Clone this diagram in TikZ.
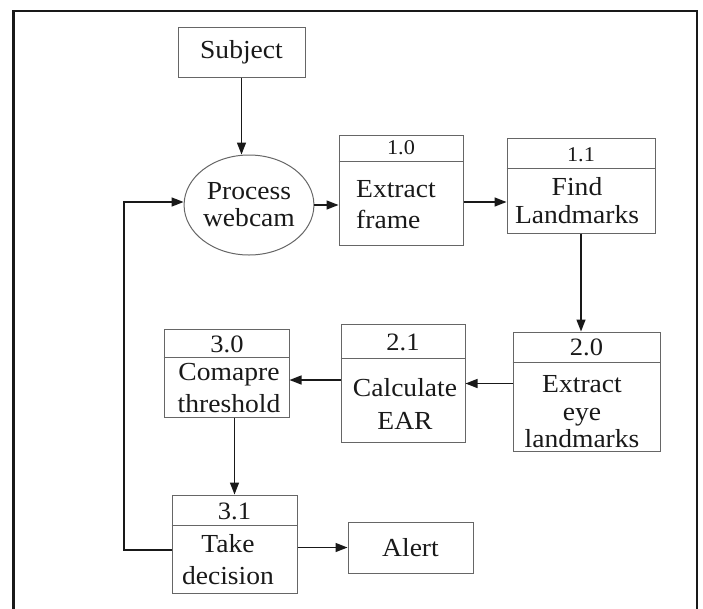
\documentclass[tikz,border=0pt]{standalone}
\usepackage{fontspec}
\setmainfont{Liberation Serif}[FakeStretch=1.06]
\usetikzlibrary{arrows.meta,shapes.geometric}
\begin{document}
\begin{tikzpicture}[x=1pt,y=-1pt,
  boxline/.style={draw=black!60, line width=1pt},
  box/.style={boxline, rectangle, inner sep=0pt},
  txt/.style={font=\fontsize{26}{30}\selectfont, align=center, inner sep=0pt, text=black!90},
  num/.style={font=\fontsize{25}{28}\selectfont, inner sep=0pt, text=black!90},
  smallnum/.style={font=\fontsize{21}{22}\selectfont, inner sep=0pt, text=black!90},
  arr/.style={draw=black!90, line width=1.4pt, -{Triangle[length=12pt,width=9pt]}}]
\useasboundingbox (0,0) rectangle (703,608);
% frame
\draw[line width=2.3pt, black!90] (13.5,620) -- (13.5,11) -- (697,11) -- (697,620);

% Subject
\node[box, txt, minimum width=127pt, minimum height=50pt] (subj) at (241.5,52) {Subject};

% Process webcam
\node[ellipse, boxline, txt, font=\fontsize{26}{27}\selectfont, minimum width=112pt, minimum height=100pt, inner sep=0pt] (circ) at (249,205) {Process\\webcam};

% 1.0
\node[box, minimum width=124pt, minimum height=110pt] (b10) at (401,190) {};
\draw[boxline] ([yshift=-27pt]b10.north west) -- ([yshift=-27pt]b10.north east);
\node[smallnum] (n10) at (401,148) {1.0};
\node[txt, align=left, anchor=west, font=\fontsize{26}{31}\selectfont] (t10) at (356,205) {Extract\\frame};

% 1.1
\node[box, minimum width=148pt, minimum height=95pt] (b11) at (581,185.5) {};
\draw[boxline] ([yshift=-31pt]b11.north west) -- ([yshift=-31pt]b11.north east);
\node[smallnum] (n11) at (581,155) {1.1};
\node[txt, font=\fontsize{26}{28}\selectfont] (t11) at (577,201) {Find\\Landmarks};

% 2.0
\node[box, minimum width=147pt, minimum height=119pt] (b20) at (586.5,391.5) {};
\draw[boxline] ([yshift=-31pt]b20.north west) -- ([yshift=-31pt]b20.north east);
\node[num] (n20) at (586.5,347) {2.0};
\node[txt, font=\fontsize{26}{27.5}\selectfont] (t20) at (582,412) {Extract\\eye\\landmarks};

% 2.1
\node[box, minimum width=124pt, minimum height=118pt] (b21) at (403,383) {};
\draw[boxline] ([yshift=-35pt]b21.north west) -- ([yshift=-35pt]b21.north east);
\node[num] (n21) at (403,342) {2.1};
\node[txt, font=\fontsize{26}{33}\selectfont] (t21) at (405,404) {Calculate\\EAR};

% 3.0
\node[box, minimum width=125pt, minimum height=88pt] (b30) at (226.5,373) {};
\draw[boxline] ([yshift=-29pt]b30.north west) -- ([yshift=-29pt]b30.north east);
\node[num] (n30) at (227,344) {3.0};
\node[txt, font=\fontsize{26}{32}\selectfont] (t30) at (229,388) {Comapre\\threshold};

% 3.1
\node[box, minimum width=125pt, minimum height=98pt] (b31) at (234.5,544) {};
\draw[boxline] ([yshift=-31pt]b31.north west) -- ([yshift=-31pt]b31.north east);
\node[num] (n31) at (234.5,511) {3.1};
\node[txt, font=\fontsize{26}{32}\selectfont] (t31) at (228,560) {Take\\decision};

% Alert
\node[box, txt, minimum width=125pt, minimum height=51pt] (alert) at (410.5,547.5) {Alert};

% connectors
\coordinate (fb) at (124,550);
\draw[arr] (subj.south) -- (subj.south |- circ.north);
\draw[arr] (circ.east) -- (circ.east -| b10.west);
\draw[arr] ([yshift=-12pt]b10.east) -- ([yshift=-12pt]b10.east -| b11.west);
\draw[arr] (b11.south) -- (b11.south |- b20.north);
\draw[arr] ([yshift=8pt]b20.west) -- ([yshift=8pt]b20.west -| b21.east);
\draw[arr] ([yshift=3pt]b21.west) -- ([yshift=3pt]b21.west -| b30.east);
\draw[arr] (b31.north |- b30.south) -- (b31.north);
\draw[arr] (b31.east |- alert.west) -- (alert.west);
\draw[arr] (b31.west |- fb) -- (fb) |- ([yshift=3pt]circ.west);
\end{tikzpicture}
\end{document}
